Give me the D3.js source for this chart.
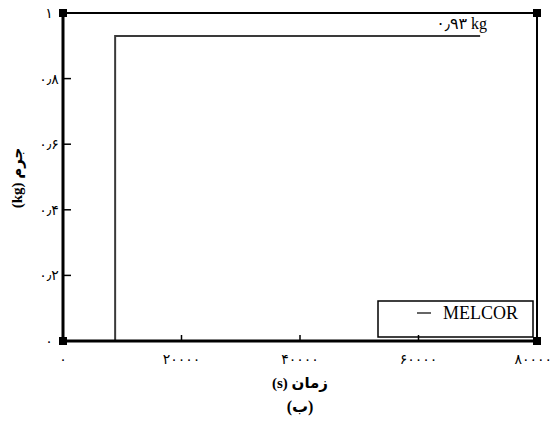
<!DOCTYPE html>
<html>
<head>
<meta charset="utf-8">
<script src="https://cdn.jsdelivr.net/npm/d3@7"></script>
<style>
  html, body { margin: 0; padding: 0; background: #fff; }
  svg { display: block; }
  text { font-family: "Liberation Serif", "DejaVu Serif", "DejaVu Sans", serif; fill: #000; }
</style>
</head>
<body>
<svg id="chart" width="553" height="426"></svg>
<script>
// Mass step from the MELCOR run (time in s, mass in kg)
const seriesName = "MELCOR";
const stepTime = [8800, 8800, 70400];
const stepMass = [0, 0.93, 0.93];
const valueLabel = "۰٫۹۳ kg";

const xTicks = [0, 20000, 40000, 60000, 80000];
const xTickLabels = ["۰", "۲۰۰۰۰", "۴۰۰۰۰", "۶۰۰۰۰", "۸۰۰۰۰"];
const yTicks = [0, 0.2, 0.4, 0.6, 0.8, 1];
const yTickLabels = ["۰", "۰٫۲", "۰٫۴", "۰٫۶", "۰٫۸", "۱"];

const xTitle = "زمان (s)";
const yTitle = "جرم (kg)";
const caption = "(ب)";

const svg = d3.select("#chart");
const W = 553;
const L = 63, R = 537, T = 13, B = 341;

const x = d3.scaleLinear().domain([0, 80000]).range([L, R]);
const y = d3.scaleLinear().domain([0, 1]).range([B, T]);

// frame: thinner top/right, heavier left/bottom
svg.append("line").attr("x1", L).attr("x2", R).attr("y1", T).attr("y2", T)
  .attr("stroke", "#000").attr("stroke-width", 2);
svg.append("line").attr("x1", R).attr("x2", R).attr("y1", T).attr("y2", B)
  .attr("stroke", "#000").attr("stroke-width", 2);

// data step
const line = d3.line().x((d, i) => x(stepTime[i])).y((d, i) => y(stepMass[i]));
svg.append("path").datum(stepTime).attr("d", line)
  .attr("fill", "none").attr("stroke", "#3a3a3a").attr("stroke-width", 2);

svg.append("text").attr("x", x(stepTime[2]) + 7).attr("y", y(stepMass[2]) - 7)
  .attr("text-anchor", "end").attr("font-size", 16).text(valueLabel);

// legend
const lg = svg.append("g");
lg.append("rect").attr("x", 378).attr("y", 301).attr("width", 155).attr("height", 36)
  .attr("fill", "#fff").attr("stroke", "#000").attr("stroke-width", 1.5);
lg.append("line").attr("x1", 417).attr("x2", 431).attr("y1", 313).attr("y2", 313)
  .attr("stroke", "#000").attr("stroke-width", 1.2);
lg.append("text").attr("x", 443).attr("y", 319).attr("font-size", 18).text(seriesName);

// left axis
svg.append("line").attr("x1", L).attr("x2", L).attr("y1", T).attr("y2", B)
  .attr("stroke", "#000").attr("stroke-width", 3);
svg.selectAll(".yt").data(yTicks.slice(1, -1)).join("line")
  .attr("x1", L).attr("x2", L + 8).attr("y1", d => y(d)).attr("y2", d => y(d))
  .attr("stroke", "#000").attr("stroke-width", 1.5);
svg.selectAll(".yl").data(yTicks).join("text")
  .attr("x", 49).attr("y", d => y(d) + 5).attr("text-anchor", "middle")
  .attr("font-size", 14).text((d, i) => yTickLabels[i]);

// bottom axis
svg.append("line").attr("x1", L).attr("x2", R).attr("y1", B).attr("y2", B)
  .attr("stroke", "#000").attr("stroke-width", 3);
svg.selectAll(".xt").data(xTicks.slice(1, -1)).join("line")
  .attr("x1", d => x(d)).attr("x2", d => x(d)).attr("y1", B).attr("y2", B - 6)
  .attr("stroke", "#000").attr("stroke-width", 1.5);
svg.selectAll(".xl").data(xTicks).join("text")
  .attr("x", d => x(d)).attr("y", 364).attr("text-anchor", "middle")
  .attr("font-size", 14).text((d, i) => xTickLabels[i])
  .each(function() {
    // keep the last label inside the page edge
    const half = this.getComputedTextLength() / 2;
    const cx = +this.getAttribute("x");
    if (cx + half > W - 1) this.setAttribute("x", W - 1 - half);
  });

// corner markers
[[L, T], [R, T], [L, B], [R, B]].forEach(([cx, cy]) => {
  svg.append("rect").attr("x", cx - 4).attr("y", cy - 4).attr("width", 8).attr("height", 8)
    .attr("fill", "#000");
});

// titles (right-to-left)
svg.append("text").attr("x", 300).attr("y", 388).attr("text-anchor", "middle")
  .attr("direction", "rtl").style("unicode-bidi", "embed")
  .attr("font-size", 15).attr("font-weight", "bold").text(xTitle);
svg.append("text").attr("transform", "translate(22,178) rotate(-90)")
  .attr("direction", "rtl").style("unicode-bidi", "embed")
  .attr("text-anchor", "middle").attr("font-size", 15).attr("font-weight", "bold").text(yTitle);
svg.append("text").attr("x", 300).attr("y", 412).attr("text-anchor", "middle")
  .attr("direction", "rtl").style("unicode-bidi", "embed")
  .attr("font-size", 16).attr("font-weight", "bold").text(caption);
</script>
</body>
</html>
